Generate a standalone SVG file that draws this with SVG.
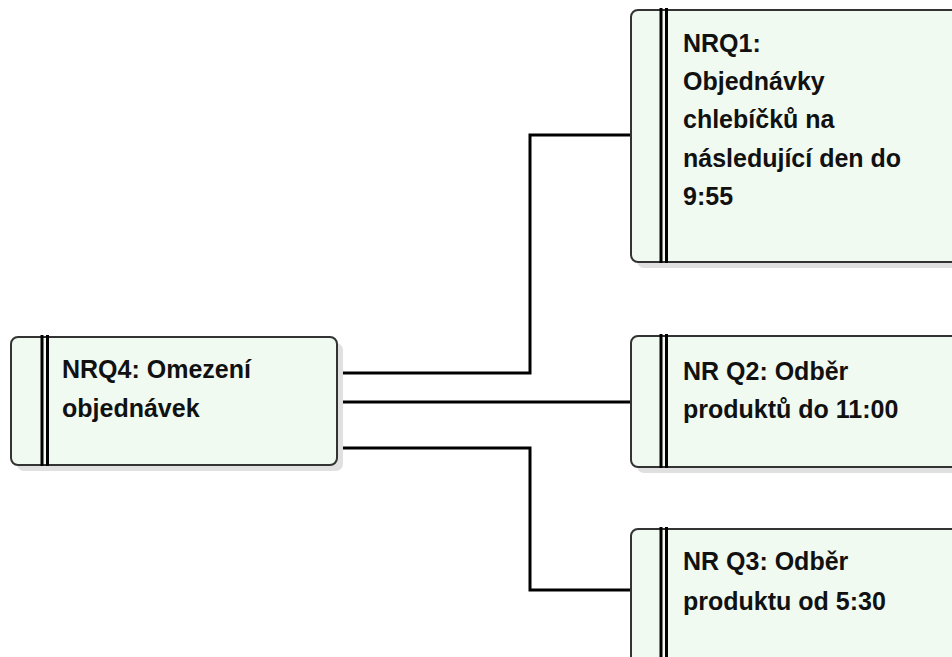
<svg xmlns="http://www.w3.org/2000/svg" width="952" height="657" viewBox="0 0 952 657">
  <defs>
    <style>
      .shadow { fill: #e0e0e0; }
      .box { fill: #f0faf0; stroke: #333333; stroke-width: 2; }
      .bar { stroke: #000000; stroke-width: 3; }
      .label { font-family: "Liberation Sans", Arial, sans-serif; font-weight: bold; font-size: 25px; fill: #111111; }
      .wire { fill: none; stroke: #000000; stroke-width: 3; stroke-linejoin: miter; }
    </style>
  </defs>
  <rect width="952" height="657" fill="#ffffff"/>

  <g id="connectors">
    <path class="wire" d="M337 373 H530 V135 H631"/>
    <path class="wire" d="M337 402 H631"/>
    <path class="wire" d="M337 448 H530 V590 H631"/>
  </g>

  <g id="nrq4">
    <rect class="shadow" x="17" y="343" width="326" height="128" rx="7"/>
    <rect class="box" x="11" y="337" width="326" height="128" rx="7"/>
    <line class="bar" x1="42" y1="335" x2="42" y2="466"/>
    <line class="bar" x1="47.5" y1="335" x2="47.5" y2="466"/>
    <text class="label" x="62" y="378">NRQ4: Omezení</text>
    <text class="label" x="62" y="417">objednávek</text>
  </g>

  <g id="nrq1">
    <rect class="shadow" x="637" y="16" width="340" height="252" rx="7"/>
    <rect class="box" x="631" y="10" width="340" height="252" rx="7"/>
    <line class="bar" x1="661" y1="8" x2="661" y2="263"/>
    <line class="bar" x1="666.5" y1="8" x2="666.5" y2="263"/>
    <text class="label" x="683" y="52">NRQ1:</text>
    <text class="label" x="683" y="90">Objednávky</text>
    <text class="label" x="683" y="128">chlebíčků na</text>
    <text class="label" x="683" y="167">následující den do</text>
    <text class="label" x="683" y="205">9:55</text>
  </g>

  <g id="nrq2">
    <rect class="shadow" x="637" y="342" width="340" height="131" rx="7"/>
    <rect class="box" x="631" y="336" width="340" height="131" rx="7"/>
    <line class="bar" x1="661" y1="334" x2="661" y2="468"/>
    <line class="bar" x1="666.5" y1="334" x2="666.5" y2="468"/>
    <text class="label" x="683" y="380">NR Q2: Odběr</text>
    <text class="label" x="683" y="418">produktů do 11:00</text>
  </g>

  <g id="nrq3">
    <rect class="shadow" x="637" y="535" width="340" height="140" rx="7"/>
    <rect class="box" x="631" y="529" width="340" height="140" rx="7"/>
    <line class="bar" x1="661" y1="527" x2="661" y2="657"/>
    <line class="bar" x1="666.5" y1="527" x2="666.5" y2="657"/>
    <text class="label" x="683" y="570">NR Q3: Odběr</text>
    <text class="label" x="683" y="610">produktu od 5:30</text>
  </g>
</svg>
